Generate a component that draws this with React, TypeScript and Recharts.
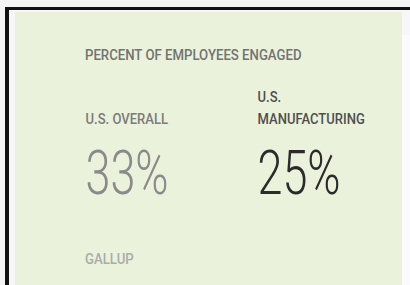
import React from "react";
import { BarChart, Bar, XAxis, YAxis, LabelList, Customized } from "recharts";

const title = "PERCENT OF EMPLOYEES ENGAGED";
const source = "GALLUP";
const categories = ["U.S. OVERALL", "U.S.\nMANUFACTURING"];
const engaged = [33, 25];
const valueColors = ["#8a8a8a", "#2b2b2b"];
const labelColors = ["#7b7b7b", "#4f4f4f"];

const data = categories.map((name, i) => ({ name, value: engaged[i] }));

// draws text squeezed horizontally, to imitate the condensed face
function Narrow({ x, y, size, scale, fill, weight = 500, children }: any) {
  return (
    <g transform={`translate(${x},${y}) scale(${scale},1)`}>
      <text x={0} y={0} fontSize={size} fill={fill} fontWeight={weight} fontFamily="Roboto, 'Noto Sans', sans-serif">
        {children}
      </text>
    </g>
  );
}

function ColumnLabel(props: any) {
  const { x, width, index, value } = props;
  const left = x + width / 2 - 41;
  const lines = categories[index].split("\n");
  return (
    <g>
      {lines.map((line, i) => (
        <Narrow key={i} x={left} y={124 - (lines.length - 1 - i) * 22} size={15} scale={0.87} fill={labelColors[index]}>
          {line}
        </Narrow>
      ))}
      <Narrow x={left} y={194} size={62} scale={0.725} fill={valueColors[index]} weight={300}>
        {value}%
      </Narrow>
    </g>
  );
}

export default function App() {
  return (
    <div style={{ position: "fixed", left: 0, top: 0, width: 410, height: 285, background: "#f4f4f4", overflow: "hidden" }}>
      {/* frame */}
      <div style={{ position: "absolute", left: 5, top: 7, width: 410, height: 290, borderTop: "3px solid #111", borderLeft: "4px solid #111", background: "#f7f7f7" }} />
      <div style={{ position: "absolute", left: 402, top: 35, width: 10, height: 260, background: "#fbfbfb" }} />
      <div style={{ position: "absolute", left: 15, top: 12, width: 387, height: 280, background: "#eaf2dc" }} />
      <div style={{ position: "absolute", left: 0, top: 0 }}>
        <BarChart width={410} height={285} data={data} margin={{ top: 0, right: 26, bottom: 0, left: 40 }} barCategoryGap={0}>
          <XAxis dataKey="name" hide />
          <YAxis hide domain={[0, 100]} />
          <Customized
            component={() => (
              <g>
                <Narrow x={85} y={60} size={15} scale={0.88} fill="#727272">{title}</Narrow>
                <Narrow x={85} y={264} size={15} scale={0.88} fill="#ababab">{source}</Narrow>
              </g>
            )}
          />
          <Bar dataKey="value" barSize={1} fill="transparent" isAnimationActive={false}>
            <LabelList dataKey="value" content={ColumnLabel} />
          </Bar>
        </BarChart>
      </div>
    </div>
  );
}
